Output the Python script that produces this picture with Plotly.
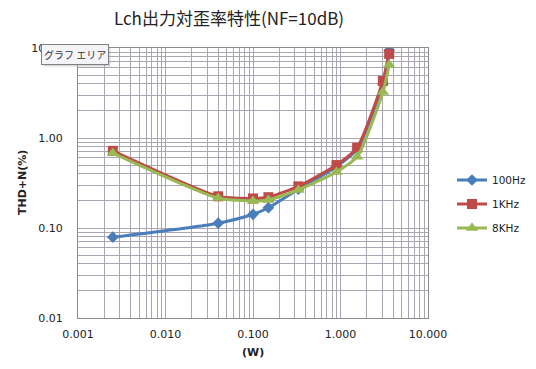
import plotly.graph_objects as go

power_w = [0.0025, 0.04, 0.1, 0.15, 0.33, 0.9, 1.55, 3.05, 3.6]
thd_100hz = [0.079, 0.113, 0.142, 0.168, 0.27, 0.48, 0.75, 4.0, 9.4]
thd_1khz = [0.72, 0.225, 0.213, 0.22, 0.29, 0.50, 0.78, 4.3, 8.6]
thd_8khz = [0.68, 0.215, 0.20, 0.205, 0.265, 0.42, 0.62, 3.25, 6.5]

series_names = ["100Hz", "1KHz", "8KHz"]
series_colors = ["#4A7EBB", "#BE4B48", "#98B954"]
series_symbols = ["diamond", "square", "triangle-up"]
series_sizes = [9, 10, 11]
series_values = [thd_100hz, thd_1khz, thd_8khz]

x_ticks = [0.001, 0.01, 0.1, 1, 10]
x_ticklabels = ["0.001", "0.010", "0.100", "1.000", "10.000"]
y_ticks = [0.01, 0.1, 1, 10]
y_ticklabels = ["0.01", "0.10", "1.00", "10.00"]

# page has an 8px body margin; figure sized so that nothing overflows the window
W, H = 528, 353
L, T = 70, 40
PW, PH = 350, 270
R, B = W - L - PW, H - T - PH

fig = go.Figure()
for name, col, sym, sz, vals in zip(series_names, series_colors, series_symbols, series_sizes, series_values):
    fig.add_trace(go.Scatter(
        x=power_w, y=vals, name=name, mode="lines+markers", legendgroup=name,
        line=dict(color=col, width=3, shape="spline", smoothing=0.6),
        marker=dict(symbol=sym, size=sz, color=col),
    ))

grid_col = "#A9A5B3"
font_main = "DejaVu Sans, Verdana, sans-serif"

fig.update_layout(
    width=W, height=H,
    margin=dict(l=L, r=R, t=T, b=B, autoexpand=False),
    paper_bgcolor="white", plot_bgcolor="white",
    font=dict(family=font_main, size=11, color="#222222"),
    title=dict(text="Lch出力対歪率特性(NF=10dB)", x=221 / W, xanchor="center",
               y=1 - 11 / H, yanchor="middle",
               font=dict(family="Noto Sans CJK JP", size=17, color="#222222")),
    showlegend=True,
    legend=dict(x=(444 - L) / PW, y=(PH - (196 - T)) / PH, xanchor="left", yanchor="middle",
                font=dict(size=10.5, color="#222222"), tracegroupgap=5,
                itemwidth=30, bgcolor="rgba(0,0,0,0)"),
    xaxis=dict(type="log", range=[-3, 1], tickvals=x_ticks, ticktext=x_ticklabels,
               showgrid=True, gridcolor=grid_col, gridwidth=1,
               minor=dict(showgrid=True, gridcolor=grid_col, gridwidth=1, dtick="D1", ticks=""),
               showline=True, linecolor="#8C8C8C", linewidth=1, mirror=True,
               ticks="", zeroline=False, automargin=False, ticklabelstandoff=6),
    yaxis=dict(type="log", range=[-2, 1], tickvals=y_ticks, ticktext=y_ticklabels,
               showgrid=True, gridcolor=grid_col, gridwidth=1,
               minor=dict(showgrid=True, gridcolor=grid_col, gridwidth=1, dtick="D1", ticks=""),
               showline=True, linecolor="#8C8C8C", linewidth=1, mirror=True,
               ticks="", zeroline=False, automargin=False, ticklabelstandoff=12),
)

bottom = T + PH
# axis titles
fig.add_annotation(xref="paper", yref="paper", x=(245 - L) / PW, y=(bottom - 344) / PH,
                   text="<b>(W)</b>", showarrow=False, font=dict(size=11, color="#222222"),
                   xanchor="center", yanchor="middle")
fig.add_annotation(xref="paper", yref="paper", x=(14 - L) / PW, y=(bottom - 175) / PH,
                   text="<b>THD+N(%)</b>", showarrow=False, textangle=-90,
                   font=dict(size=11, color="#222222"), xanchor="center", yanchor="middle")

# "グラフ エリア" tooltip box (shadow + box)
fig.add_annotation(xref="paper", yref="paper", x=(69 - L) / PW, y=(bottom - 48) / PH,
                   text="グラフ エリア", showarrow=False, xanchor="center", yanchor="middle",
                   font=dict(family="Noto Sans CJK JP", size=10, color="rgba(0,0,0,0)"),
                   bgcolor="rgba(150,150,150,0.35)", bordercolor="rgba(0,0,0,0)",
                   borderwidth=1, borderpad=2)
fig.add_annotation(xref="paper", yref="paper", x=(67 - L) / PW, y=(bottom - 46) / PH,
                   text="グラフ エリア", showarrow=False, xanchor="center", yanchor="middle",
                   font=dict(family="Noto Sans CJK JP", size=10, color="#333333"),
                   bgcolor="#F4F4F8", bordercolor="#7F7F7F", borderwidth=1, borderpad=2)

fig.write_html("out.html")
